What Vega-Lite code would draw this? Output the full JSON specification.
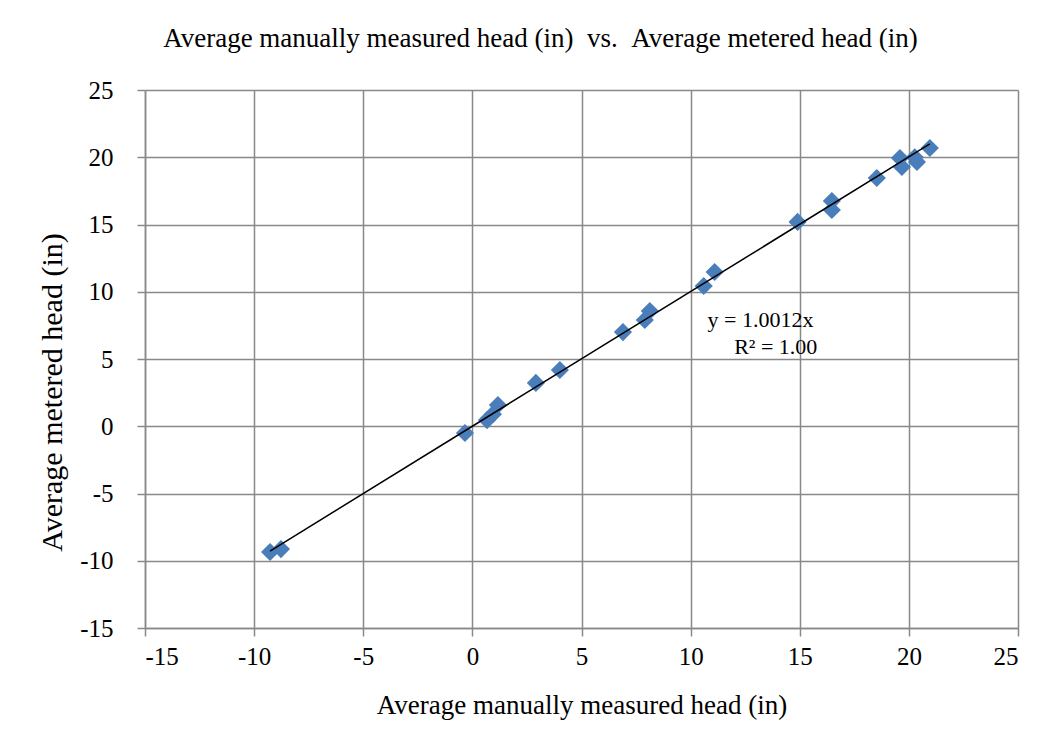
{
  "$schema": "https://vega.github.io/schema/vega-lite/v6.json",
  "width": 873,
  "height": 538,
  "autosize": {"type": "none"},
  "padding": {"left": 145, "top": 90, "right": 38, "bottom": 114},
  "background": "white",
  "title": {
    "text": "Average manually measured head (in)\u00a0\u00a0vs.\u00a0\u00a0Average metered head (in)",
    "font": "Liberation Serif",
    "fontSize": 27,
    "fontWeight": "normal",
    "color": "black",
    "anchor": "middle",
    "dx": -41,
    "offset": 25
  },
  "config": {
    "view": {"stroke": null},
    "axis": {
      "labelFont": "Liberation Serif",
      "labelFontSize": 25,
      "labelColor": "black",
      "titleFont": "Liberation Serif",
      "titleFontSize": 27,
      "titleFontWeight": "normal",
      "titleColor": "black",
      "gridColor": "#898989",
      "gridWidth": 1.5,
      "gridOpacity": 1,
      "domainColor": "#898989",
      "domainWidth": 1.5,
      "tickColor": "#898989",
      "tickWidth": 1.5,
      "tickSize": 8,
      "labelExpr": "'' + datum.value"
    }
  },
  "datasets": {
    "points": [
      {"manual": -9.27, "metered": -9.35},
      {"manual": -8.77, "metered": -9.13},
      {"manual": -0.34, "metered": -0.5},
      {"manual": 0.67, "metered": 0.46},
      {"manual": 0.94, "metered": 0.9},
      {"manual": 1.17, "metered": 1.58},
      {"manual": 2.91, "metered": 3.22},
      {"manual": 4.01, "metered": 4.18},
      {"manual": 6.9, "metered": 7.0},
      {"manual": 7.9, "metered": 7.9},
      {"manual": 8.13, "metered": 8.57},
      {"manual": 10.6, "metered": 10.43},
      {"manual": 11.1, "metered": 11.47},
      {"manual": 14.9, "metered": 15.19},
      {"manual": 16.47, "metered": 16.75},
      {"manual": 16.47, "metered": 16.08},
      {"manual": 18.53, "metered": 18.46},
      {"manual": 19.59, "metered": 19.94},
      {"manual": 19.68, "metered": 19.28},
      {"manual": 20.27, "metered": 20.0},
      {"manual": 20.37, "metered": 19.65},
      {"manual": 20.96, "metered": 20.69}
    ],
    "trend": [
      {"manual": -9.27, "metered": -9.28},
      {"manual": 20.96, "metered": 20.99}
    ],
    "labels": [
      {"manual": 13.2, "metered": 7.9, "text": "y = 1.0012x"},
      {"manual": 13.9, "metered": 5.9, "text": "R² = 1.00"}
    ]
  },
  "encoding": {
    "x": {
      "field": "manual",
      "type": "quantitative",
      "scale": {"domain": [-15, 25], "nice": false, "zero": false},
      "axis": {"values": [-15, -10, -5, 0, 5, 10, 15, 20, 25], "title": "Average manually measured head (in)", "titlePadding": 23, "labelPadding": 8}
    },
    "y": {
      "field": "metered",
      "type": "quantitative",
      "scale": {"domain": [-15, 25], "nice": false, "zero": false},
      "axis": {"values": [-15, -10, -5, 0, 5, 10, 15, 20, 25], "title": "Average metered head (in)", "titleFontSize": 30, "titleY": 302, "titlePadding": 12, "labelPadding": 24}
    }
  },
  "layer": [
    {
      "data": {"name": "points"},
      "mark": {"type": "point", "shape": "diamond", "filled": true, "size": 330, "color": "#4A7EBB", "opacity": 1}
    },
    {
      "data": {"name": "trend"},
      "mark": {"type": "line", "color": "black", "strokeWidth": 1.5}
    },
    {
      "data": {"name": "labels"},
      "mark": {"type": "text", "font": "Liberation Serif", "fontSize": 22, "color": "black", "align": "center", "baseline": "middle"},
      "encoding": {"text": {"field": "text"}}
    }
  ]
}
